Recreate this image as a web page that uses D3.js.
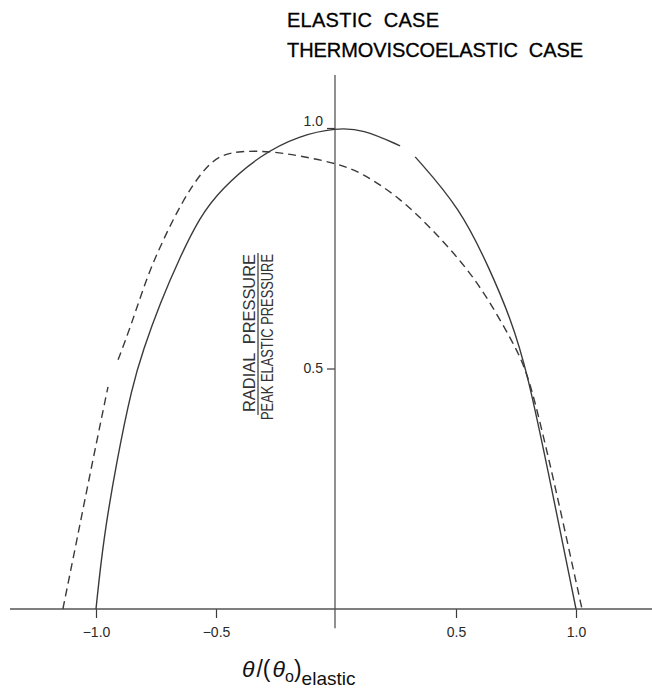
<!DOCTYPE html>
<html>
<head>
<meta charset="utf-8">
<script src="https://cdn.jsdelivr.net/npm/d3@7"></script>
<style>
  body { margin: 0; background: #fff; }
  svg { display: block; font-family: "Liberation Sans", Arial, sans-serif; }
</style>
</head>
<body>
<div id="chart"></div>
<script>
// data (x = theta / theta0 elastic, y = pressure / peak elastic)
// null = small break in the printed curve
const elastic = [
  [-1.0, 0], [-0.97, 0.143], [-0.913, 0.31], [-0.85, 0.462], [-0.804, 0.538],
  [-0.733, 0.636], [-0.65, 0.732], [-0.567, 0.815], [-0.483, 0.871], [-0.317, 0.944],
  [-0.15, 0.985], [0, 1.0], [0.11, 0.998], [0.267, 0.963], null,
  [0.33, 0.94], [0.517, 0.834], [0.642, 0.705], [0.725, 0.607], [0.796, 0.497],
  [0.9, 0.247], [1.0, 0]
];
const thermo = [
  [-1.138, 0], [-1.08, 0.143], [-1.013, 0.31], [-0.95, 0.462], null,
  [-0.908, 0.518], [-0.85, 0.595], [-0.788, 0.69], [-0.721, 0.767], [-0.638, 0.85],
  [-0.554, 0.913], [-0.483, 0.944], [-0.4, 0.952], [-0.275, 0.952], [-0.15, 0.942],
  [0, 0.927], [0.113, 0.906], [0.267, 0.854], [0.392, 0.794], [0.529, 0.719],
  [0.629, 0.649], [0.725, 0.565], [0.796, 0.497], [0.858, 0.372], [0.917, 0.247],
  [1.025, 0]
];
const xTicks = [-1.0, -0.5, 0.5, 1.0];
const yTicks = [0.5, 1.0];
const legendLabels = ["ELASTIC  CASE", "THERMOVISCOELASTIC  CASE"];

const width = 652, height = 692;

const svg = d3.select("#chart")
  .append("svg")
    .attr("width", width)
    .attr("height", height);

// scales
const x = d3.scaleLinear().domain([-1, 1]).range([96, 576]);
const y = d3.scaleLinear().domain([0, 1]).range([609, 128]);

const ink = "#3a3a3a";

// x axis
const xAxis = svg.append("g")
  .attr("transform", `translate(0,${y(0)})`)
  .call(d3.axisBottom(x).tickValues(xTicks).tickSize(9).tickPadding(9)
    .tickFormat(d3.format(".1f")));
xAxis.select(".domain").remove();
xAxis.selectAll(".tick line").attr("stroke", ink).attr("stroke-width", 1.2);
xAxis.selectAll(".tick text")
  .attr("font-size", 14)
  .attr("fill", "#2a2a2a")
  .style("font-family", "Liberation Sans, Arial, sans-serif");

svg.append("line")
  .attr("x1", 10).attr("x2", width)
  .attr("y1", y(0)).attr("y2", y(0))
  .attr("stroke", "#555").attr("stroke-width", 1.5);

// y axis
const yAxis = svg.append("g")
  .attr("transform", `translate(${x(0) - 1},0)`)
  .call(d3.axisLeft(y).tickValues(yTicks).tickSize(8).tickPadding(4)
    .tickFormat(d3.format(".1f")));
yAxis.select(".domain").remove();
yAxis.selectAll(".tick line").attr("stroke", ink).attr("stroke-width", 1.2);
yAxis.selectAll(".tick text")
  .attr("font-size", 14)
  .attr("fill", "#2a2a2a")
  .style("font-family", "Liberation Sans, Arial, sans-serif");
yAxis.selectAll(".tick").filter(d => d === 1.0).select("text")
  .attr("dy", "-0.15em");

svg.append("line")
  .attr("x1", x(0) - 1).attr("x2", x(0) - 1)
  .attr("y1", y(1.11)).attr("y2", y(-0.04))
  .attr("stroke", "#555").attr("stroke-width", 1.3);

// curves
const line = d3.line()
  .defined(d => d !== null)
  .x(d => x(d[0]))
  .y(d => y(d[1]))
  .curve(d3.curveBasis);

svg.append("path")
  .datum(elastic)
  .attr("fill", "none")
  .attr("stroke", ink)
  .attr("stroke-width", 1.4)
  .attr("d", line);

svg.append("path")
  .datum(thermo)
  .attr("fill", "none")
  .attr("stroke", ink)
  .attr("stroke-width", 1.4)
  .attr("stroke-dasharray", "8,5")
  .attr("d", line);

// legend text (top right)
svg.append("text")
  .attr("x", 287).attr("y", 27)
  .attr("font-size", 20)
  .attr("textLength", 152)
  .attr("lengthAdjust", "spacing")
  .attr("fill", "#000")
  .attr("stroke", "#000").attr("stroke-width", 0.3)
  .style("white-space", "pre")
  .text(legendLabels[0]);

svg.append("text")
  .attr("x", 287).attr("y", 57)
  .attr("font-size", 20)
  .attr("textLength", 296)
  .attr("lengthAdjust", "spacing")
  .attr("fill", "#000")
  .attr("stroke", "#000").attr("stroke-width", 0.3)
  .style("white-space", "pre")
  .text(legendLabels[1]);

// y label: rotated fraction
const frac = svg.append("g")
  .attr("transform", "translate(258,333) rotate(-90)");

frac.append("text")
  .attr("x", 0).attr("y", -3)
  .attr("text-anchor", "middle")
  .attr("font-size", 16)
  .attr("textLength", 158)
  .attr("lengthAdjust", "spacingAndGlyphs")
  .attr("fill", "#333")
  .style("white-space", "pre")
  .text("RADIAL  PRESSURE");

frac.append("line")
  .attr("x1", -82).attr("x2", 80)
  .attr("y1", 0).attr("y2", 0)
  .attr("stroke", "#333").attr("stroke-width", 1.2);

frac.append("text")
  .attr("x", -4).attr("y", 15)
  .attr("text-anchor", "middle")
  .attr("font-size", 17)
  .attr("textLength", 166)
  .attr("lengthAdjust", "spacingAndGlyphs")
  .attr("fill", "#333")
  .text("PEAK ELASTIC PRESSURE");

// x label
const xl = svg.append("text")
  .attr("x", 242).attr("y", 677)
  .attr("font-size", 23)
  .attr("fill", "#111")
  .style("font-family", "Liberation Sans, Arial, sans-serif");
xl.append("tspan").attr("font-style", "italic").text("θ");
xl.append("tspan").attr("dx", 2).text("/(");
xl.append("tspan").attr("dx", 2).attr("font-style", "italic").text("θ");
xl.append("tspan").attr("font-size", 16).attr("dy", 5).text("o");
xl.append("tspan").attr("dy", -5).text(")");
xl.append("tspan").attr("font-size", 19).attr("dy", 8).text("elastic");
</script>
</body>
</html>
